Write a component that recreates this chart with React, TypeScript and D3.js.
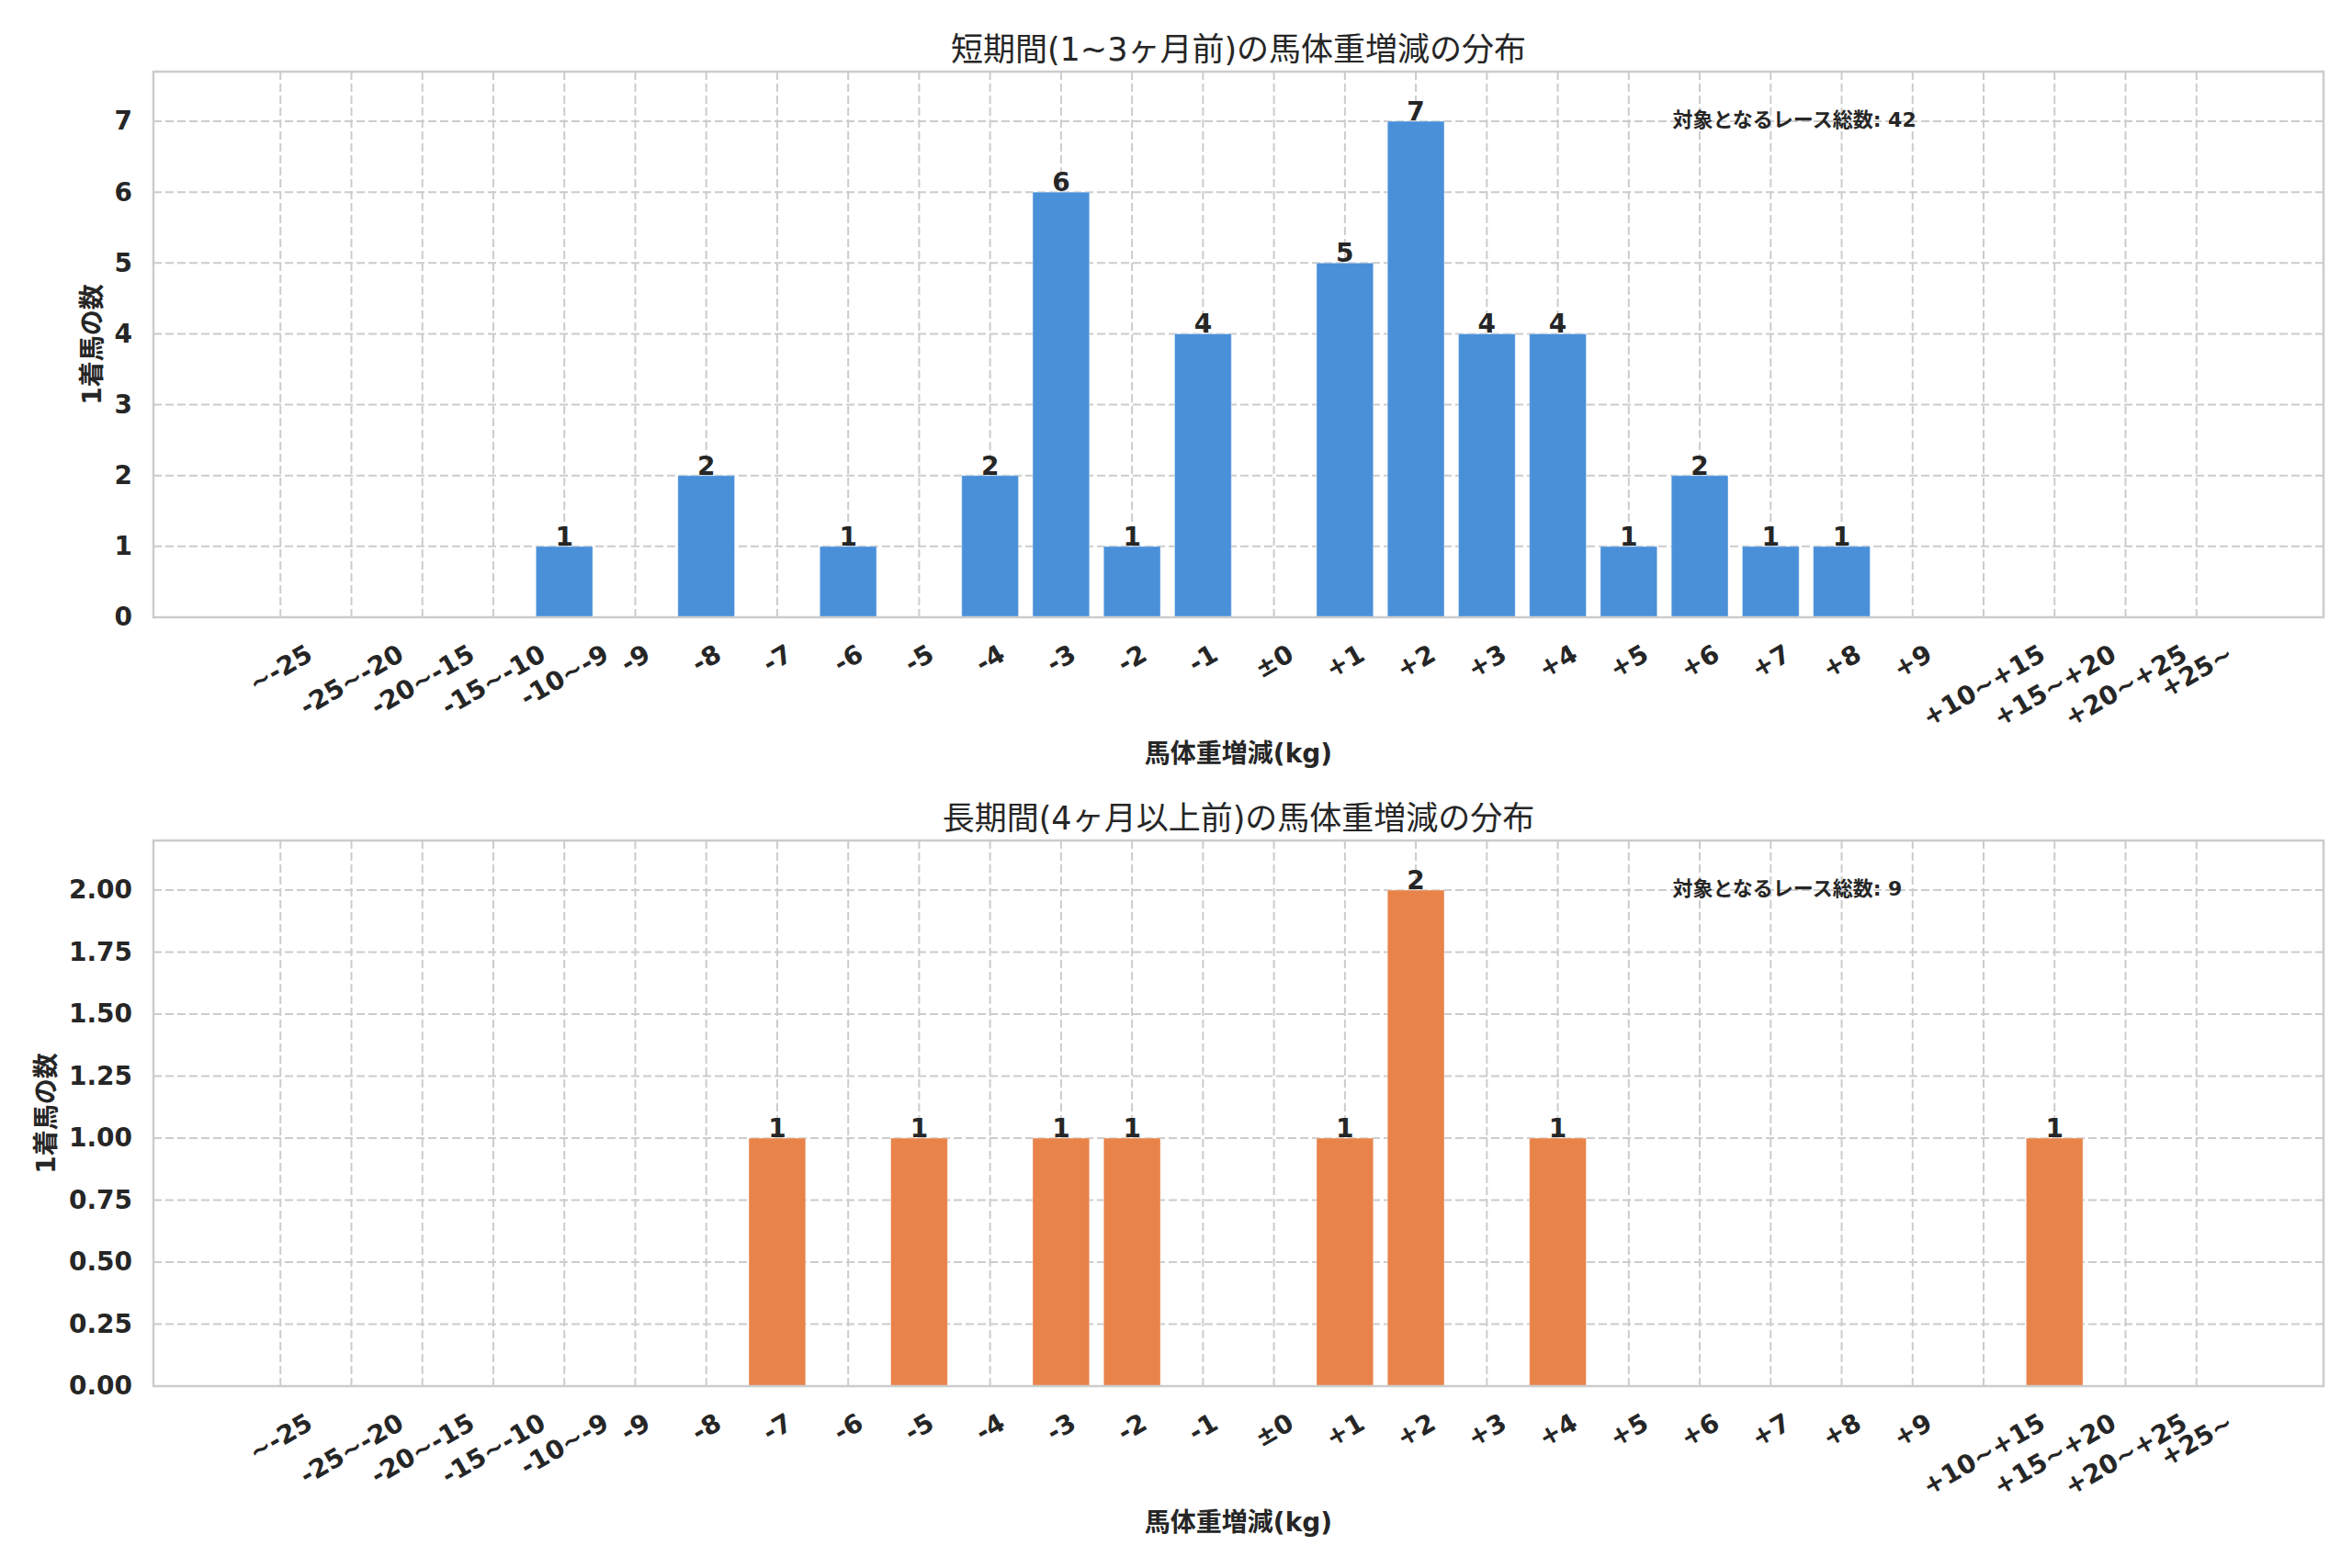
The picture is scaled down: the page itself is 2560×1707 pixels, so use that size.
import { useEffect, useRef } from "react"
import * as d3 from "d3"

const categories = [
  "~-25", "-25~-20", "-20~-15", "-15~-10", "-10~-9", "-9", "-8", "-7", "-6", "-5",
  "-4", "-3", "-2", "-1", "±0", "+1", "+2", "+3", "+4", "+5",
  "+6", "+7", "+8", "+9", "+10~+15", "+15~+20", "+20~+25", "+25~",
]

const shortTermCounts = [0, 0, 0, 0, 1, 0, 2, 0, 1, 0, 2, 6, 1, 4, 0, 5, 7, 4, 4, 1, 2, 1, 1, 0, 0, 0, 0, 0]
const longTermCounts = [0, 0, 0, 0, 0, 0, 0, 1, 0, 1, 0, 1, 1, 0, 0, 1, 2, 0, 1, 0, 0, 0, 0, 0, 0, 1, 0, 0]

const topYTicks = [0, 1, 2, 3, 4, 5, 6, 7]
const bottomYTicks = [0, 0.25, 0.5, 0.75, 1, 1.25, 1.5, 1.75, 2]

const titles = ["短期間(1~3ヶ月前)の馬体重増減の分布", "長期間(4ヶ月以上前)の馬体重増減の分布"]
const xLabel = "馬体重増減(kg)"
const yLabel = "1着馬の数"
const totalLabel = "対象となるレース総数"

const FONT = "'DejaVu Sans', 'Noto Sans CJK JP', sans-serif"
const INK = "#262626"
const GRID = "#cccccc"

export default function App() {
  const ref = useRef<SVGSVGElement | null>(null)

  useEffect(() => {
    document.body.style.margin = "0"
    const svg = d3.select(ref.current)
    svg.selectAll("*").remove()

    const width = 2560
    const height = 1707
    svg.attr("width", width).attr("height", height)
    svg.append("rect").attr("width", width).attr("height", height).attr("fill", "#fff")

    const left = 167
    const right = 2529

    const panels = [
      { top: 78, bottom: 672, data: shortTermCounts, ticks: topYTicks, fmt: d3.format("d"), color: "#4A90D9", title: titles[0] },
      { top: 915, bottom: 1509, data: longTermCounts, ticks: bottomYTicks, fmt: d3.format(".2f"), color: "#E8834A", title: titles[1] },
    ]

    const n = categories.length
    const x = d3.scaleLinear()
      .domain([-0.4 - 0.05 * (n - 0.2), n - 0.6 + 0.05 * (n - 0.2)])
      .range([left, right])
    const barW = x(0.4) - x(-0.4)

    panels.forEach(p => {
      const total = d3.sum(p.data)
      const y = d3.scaleLinear()
        .domain([0, d3.max(p.data)! * 1.1])
        .range([p.bottom, p.top])

      const g = svg.append("g").attr("font-family", FONT)

      // grid
      g.selectAll("line.vgrid")
        .data(categories)
        .enter()
        .append("line")
        .attr("x1", (d, i) => x(i))
        .attr("x2", (d, i) => x(i))
        .attr("y1", p.top)
        .attr("y2", p.bottom)
        .attr("stroke", GRID)
        .attr("stroke-width", 2)
        .attr("stroke-dasharray", "9,4")

      g.selectAll("line.hgrid")
        .data(p.ticks)
        .enter()
        .append("line")
        .attr("x1", left)
        .attr("x2", right)
        .attr("y1", d => y(d))
        .attr("y2", d => y(d))
        .attr("stroke", GRID)
        .attr("stroke-width", 2)
        .attr("stroke-dasharray", "9,4")

      // bars
      g.selectAll("rect.bar")
        .data(p.data)
        .enter()
        .append("rect")
        .attr("x", (d, i) => x(i) - barW / 2)
        .attr("y", d => y(d))
        .attr("width", barW)
        .attr("height", d => p.bottom - y(d))
        .attr("fill", p.color)
        .attr("stroke", "#ffffff")
        .attr("stroke-opacity", 0.4)
        .attr("stroke-width", 1)

      // value labels
      g.selectAll("text.val")
        .data(p.data.map((v, i) => ({ v, i })).filter(d => d.v > 0))
        .enter()
        .append("text")
        .attr("x", d => x(d.i))
        .attr("y", d => y(d.v) - 1)
        .attr("text-anchor", "middle")
        .attr("font-size", 28)
        .attr("font-weight", "bold")
        .attr("fill", INK)
        .text(d => d.v)

      // spines
      g.append("rect")
        .attr("x", left)
        .attr("y", p.top)
        .attr("width", right - left)
        .attr("height", p.bottom - p.top)
        .attr("fill", "none")
        .attr("stroke", GRID)
        .attr("stroke-width", 2.5)

      // y axis
      const yAxis = g.append("g")
        .attr("transform", `translate(${left},0)`)
        .call(d3.axisLeft(y).tickValues(p.ticks).tickFormat(d => p.fmt(d as number)).tickSize(0).tickPadding(23))
      yAxis.select(".domain").remove()
      yAxis.selectAll("text")
        .attr("font-size", 28)
        .attr("font-weight", "bold")
        .attr("font-family", FONT)
        .attr("fill", INK)
      let maxTickW = 0
      yAxis.selectAll<SVGTextElement, unknown>("text").each(function () {
        maxTickW = Math.max(maxTickW, this.getComputedTextLength())
      })

      // x tick labels, rotated 30deg, centred on tick
      const fs = 28
      const lineH = 1.164 * fs
      const xt = g.selectAll("text.xt")
        .data(categories)
        .enter()
        .append("text")
        .attr("text-anchor", "middle")
        .attr("dy", "0.346em")
        .attr("font-size", fs)
        .attr("font-weight", "bold")
        .attr("fill", INK)
        .text(d => d)
      xt.each(function (d, i) {
        const w = (this as SVGTextElement).getComputedTextLength()
        const bh = w * Math.sin(Math.PI / 6) + lineH * Math.cos(Math.PI / 6)
        const cy = p.bottom + 23 + bh / 2
        d3.select(this).attr("transform", `translate(${x(i)},${cy}) rotate(-30)`)
      })

      // title
      g.append("text")
        .attr("x", (left + right) / 2)
        .attr("y", p.top - 12)
        .attr("text-anchor", "middle")
        .attr("font-size", 35)
        .attr("fill", INK)
        .text(p.title)

      // axis labels
      g.append("text")
        .attr("x", (left + right) / 2)
        .attr("y", p.bottom + 158)
        .attr("text-anchor", "middle")
        .attr("font-size", 28)
        .attr("font-weight", "bold")
        .attr("fill", INK)
        .text(xLabel)

      const ylx = left - 23 - maxTickW - 8 - lineH / 2
      g.append("text")
        .attr("transform", `translate(${ylx},${(p.top + p.bottom) / 2}) rotate(-90)`)
        .attr("text-anchor", "middle")
        .attr("dy", "0.346em")
        .attr("font-size", 28)
        .attr("font-weight", "bold")
        .attr("fill", INK)
        .text(yLabel)

      // total annotation
      g.append("text")
        .attr("x", left + 0.7 * (right - left))
        .attr("y", p.top + 60)
        .attr("font-size", 22)
        .attr("font-weight", "bold")
        .attr("fill", INK)
        .text(`${totalLabel}: ${total}`)
    })
  }, [])

  return <svg ref={ref} style={{ display: "block" }} />
}
